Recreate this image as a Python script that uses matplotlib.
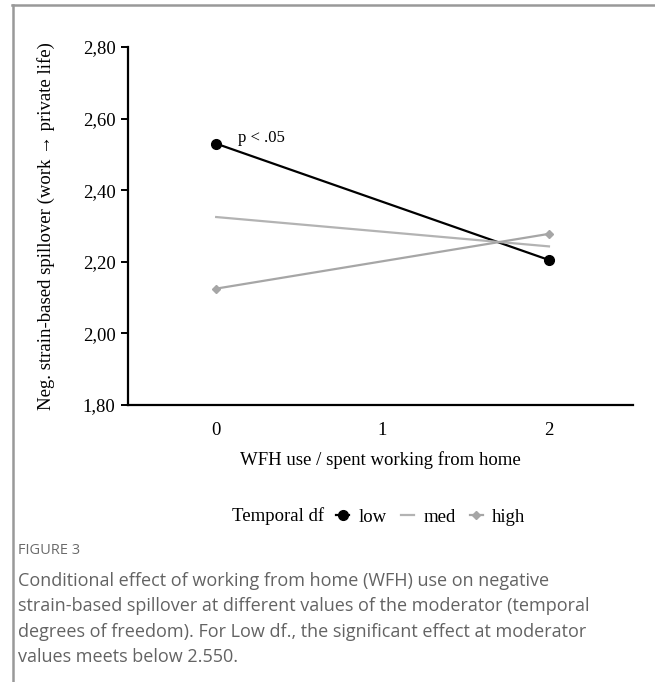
import matplotlib.pyplot as plt
from matplotlib.lines import Line2D

# data
wfh = [0, 2]
low = [2.53, 2.205]
med = [2.325, 2.243]
high = [2.125, 2.278]
yticks = [1.80, 2.00, 2.20, 2.40, 2.60, 2.80]
xticks = [0, 1, 2]

serif = ['Liberation Serif', 'DejaVu Serif']
plt.rcParams['font.family'] = serif
fs = 13.5

fig = plt.figure(figsize=(6.55, 6.82), dpi=100)
ax = fig.add_axes([0.1954, 0.4062, 0.7710, 0.5249])

ax.plot(wfh, low, color='black', lw=1.6, marker='o', ms=7, label='low')
ax.plot(wfh, med, color='#b3b3b3', lw=1.6, label='med')
ax.plot(wfh, high, color='#a6a6a6', lw=1.6, marker='D', ms=4.5, label='high')

ax.text(0.13, 2.545, 'p < .05', fontsize=12, ha='left', va='center')

ax.set_xlim(-0.53, 2.505)
ax.set_ylim(1.80, 2.80)
ax.set_yticks(yticks)
ax.set_yticklabels([f'{v:.2f}'.replace('.', ',') for v in yticks], fontsize=fs)
ax.set_xticks(xticks)
ax.set_xticklabels([str(v) for v in xticks], fontsize=fs)
ax.tick_params(axis='x', length=0, pad=12)
ax.tick_params(axis='y', length=5, width=1.4, pad=4, direction='out')
for s in ['top', 'right']:
    ax.spines[s].set_visible(False)
for s in ['left', 'bottom']:
    ax.spines[s].set_linewidth(1.6)

ax.set_xlabel('WFH use / spent working from home', fontsize=fs, labelpad=9)
ax.set_ylabel('Neg. strain-based spillover (work \u2192 private life)', fontsize=fs, labelpad=20)

fig.text(232 / 655, 1 - 516 / 682, 'Temporal df', fontsize=fs, ha='left', va='center')
fig.legend(loc='center left', bbox_to_anchor=(336 / 655, 1 - 517 / 682), ncol=3,
           frameon=False, fontsize=fs, handlelength=0.7, handletextpad=0.5,
           columnspacing=0.75, borderpad=0, borderaxespad=0)

# frame lines of the page
fig.add_artist(Line2D([12 / 655, 1], [1 - 5 / 682] * 2, color='#999999', lw=1.8, transform=fig.transFigure))
fig.add_artist(Line2D([13 / 655] * 2, [0, 1 - 5 / 682], color='#999999', lw=1.8, transform=fig.transFigure))

sans = ['Open Sans', 'DejaVu Sans']
fig.text(18 / 655, 1 - 551 / 682, 'FIGURE 3', fontsize=10.5, color='#6b6b6b',
         family=sans, va='center')
caption = ('Conditional effect of working from home (WFH) use on negative\n'
           'strain-based spillover at different values of the moderator (temporal\n'
           'degrees of freedom). For Low df., the significant effect at moderator\n'
           'values meets below 2.550.')
fig.text(18 / 655, 1 - 572 / 682, caption, fontsize=13, color='#636363',
         family=sans, va='top', linespacing=1.53)

fig.savefig('out.png', dpi=100)
